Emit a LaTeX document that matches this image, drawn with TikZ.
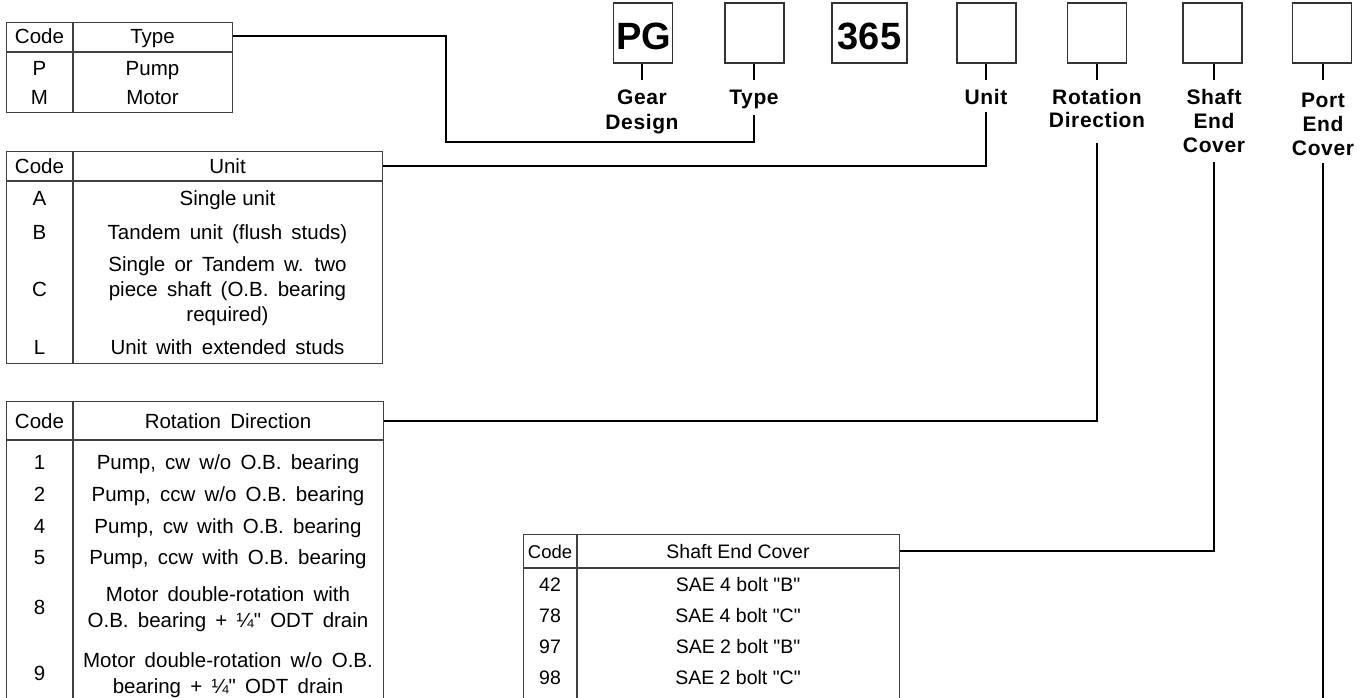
\documentclass[tikz,border=0pt]{standalone}
\usepackage{fontspec}
\setmainfont{Liberation Sans}[Ligatures=TeXOff]
\newfontfamily\lblfont{Liberation Sans}[Ligatures=TeXOff,LetterSpace=3]
\newcommand\tabfont{\fontsize{20.5}{24}\selectfont\setlength{\spaceskip}{0.45em}}
\newcommand\lblsfont{\lblfont\fontsize{21}{25}\selectfont\bfseries}
\begin{document}
\begin{tikzpicture}[x=1pt,y=-1pt,
  tx/.style={inner sep=0pt, text height=14.7pt, text depth=0pt, font=\tabfont},
  sx/.style={inner sep=0pt, text height=14pt, text depth=0pt, font=\fontsize{19.5}{23}\selectfont},
  lbl/.style={inner sep=0pt, text height=15pt, text depth=0pt, font=\lblsfont},
  big/.style={inner sep=0pt, text height=27.2pt, text depth=0pt, font=\fontsize{38}{40}\selectfont\bfseries},
  codebox/.style={draw=black!80, line width=1.3pt, minimum width=59pt, minimum height=60pt, inner sep=0pt},
  tbl/.style={draw=black!75, line width=1.4pt},
  conn/.style={draw=black, line width=1.2pt}]
\useasboundingbox (0,0) rectangle (1364,697);
\clip (0,0) rectangle (1364,697);

% ---------- top code boxes ----------
\node[codebox] (bPG) at (643,33) {};
\node[big] (tPG) at (643.5,36) {PG};
\node[codebox] (bTY) at (754.5,33) {};
\node[codebox, minimum width=75pt] (b365) at (869.5,33) {};
\node[big] (t365) at (869.5,36) {365};
\node[codebox] (bUN) at (986.5,33) {};
\node[codebox] (bRO) at (1097,33) {};
\node[codebox] (bSH) at (1212.5,33) {};
\node[codebox] (bPO) at (1322,33) {};

% ticks
\coordinate (kPG) at (642,80);
\coordinate (kTY) at (754,80);
\coordinate (kUN) at (986,80);
\coordinate (kRO) at (1097,80);
\coordinate (kSH) at (1214,80);
\coordinate (kPO) at (1323,80);
\draw[conn] (bPG.south -| kPG) -- (kPG);
\draw[conn] (bTY.south -| kTY) -- (kTY);
\draw[conn] (bUN.south -| kUN) -- (kUN);
\draw[conn] (bRO.south -| kRO) -- (kRO);
\draw[conn] (bSH.south -| kSH) -- (kSH);
\draw[conn] (bPO.south -| kPO) -- (kPO);

% labels
\node[lbl] (lGear) at (642,97) {Gear};
\node[lbl] (lDesign) at (642,122) {Design};
\node[lbl] (lType) at (754,97) {Type};
\node[lbl] (lUnit) at (986,97) {Unit};
\node[lbl] (lRot) at (1097,97) {Rotation};
\node[lbl] (lDir) at (1097,120) {Direction};
\node[lbl] (lShaft) at (1214,97) {Shaft};
\node[lbl] (lSEnd) at (1214,121) {End};
\node[lbl] (lSCover) at (1214,145) {Cover};
\node[lbl] (lPort) at (1323,100) {Port};
\node[lbl] (lPEnd) at (1323,124) {End};
\node[lbl] (lPCover) at (1323,148) {Cover};

% ---------- Type table ----------
\node[tbl, anchor=north west, minimum width=226pt, minimum height=90pt, inner sep=0pt] (ttbl) at (6,22) {};
\draw[tbl] (6,52) -- (232,52);
\draw[tbl] (73,22) -- (73,112);
\node[tx] (tH1) at (39.5,36) {Code};
\node[tx] (tH2) at (152.5,36) {Type};
\node[tx] (tP) at (39.5,68) {P};
\node[tx] (tPd) at (152.5,68) {Pump};
\node[tx] (tM) at (39.5,97) {M};
\node[tx] (tMd) at (152.5,97) {Motor};

% ---------- Unit table ----------
\node[tbl, anchor=north west, minimum width=376pt, minimum height=212pt, inner sep=0pt] (utbl) at (6,151) {};
\draw[tbl] (6,181) -- (382,181);
\draw[tbl] (73,151) -- (73,363);
\node[tx] (uH1) at (39.5,166) {Code};
\node[tx] (uH2) at (227.5,166) {Unit};
\node[tx] (uA) at (39.5,198) {A};
\node[tx] (uAd) at (227.5,198) {\setlength{\spaceskip}{0pt}Single unit};
\node[tx] (uB) at (39.5,232) {B};
\node[tx] (uBd) at (227.5,232) {Tandem unit (flush studs)};
\node[tx] (uC) at (39.5,289) {C};
\node[tx] (uCd1) at (227.5,264) {Single or Tandem w. two};
\node[tx] (uCd2) at (227.5,289) {piece shaft (O.B. bearing};
\node[tx] (uCd3) at (227.5,314) {required)};
\node[tx] (uL) at (39.5,347) {L};
\node[tx] (uLd) at (227.5,347) {Unit with extended studs};

% ---------- Rotation table ----------
\node[tbl, anchor=north west, minimum width=377pt, minimum height=310pt, inner sep=0pt] (rtbl) at (6,401) {};
\draw[tbl] (6,440) -- (383,440);
\draw[tbl] (73,401) -- (73,711);
\node[tx] (rH1) at (39.5,421) {Code};
\node[tx] (rH2) at (228,421) {Rotation Direction};
\node[tx] (r1) at (39.5,462) {1};
\node[tx] (r1d) at (228,462) {Pump, cw w/o O.B. bearing};
\node[tx] (r2) at (39.5,494) {2};
\node[tx] (r2d) at (228,494) {Pump, ccw w/o O.B. bearing};
\node[tx] (r4) at (39.5,526) {4};
\node[tx] (r4d) at (228,526) {Pump, cw with O.B. bearing};
\node[tx] (r5) at (39.5,557) {5};
\node[tx] (r5d) at (228,557) {Pump, ccw with O.B. bearing};
\node[tx] (r8) at (39.5,607) {8};
\node[tx] (r8a) at (228,594) {Motor double-rotation with};
\node[tx] (r8b) at (228,620) {O.B. bearing + ¼" ODT drain};
\node[tx] (r9) at (39.5,673) {9};
\node[tx] (r9a) at (228,660) {Motor double-rotation w/o O.B.};
\node[tx] (r9b) at (228,686) {bearing + ¼" ODT drain};

% ---------- Shaft End Cover table ----------
\node[tbl, anchor=north west, minimum width=376pt, minimum height=180pt, inner sep=0pt] (stbl) at (523,534) {};
\draw[tbl] (523,568) -- (899,568);
\draw[tbl] (577,534) -- (577,714);
\node[sx, font=\fontsize{18.5}{22}\selectfont] (sH1) at (550,551) {Code};
\node[sx] (sH2) at (738,551) {Shaft End Cover};
\node[sx] (s42) at (550,584) {42};
\node[sx] (s42d) at (738,584) {SAE 4 bolt "B"};
\node[sx] (s78) at (550,615) {78};
\node[sx] (s78d) at (738,615) {SAE 4 bolt "C"};
\node[sx] (s97) at (550,646) {97};
\node[sx] (s97d) at (738,646) {SAE 2 bolt "B"};
\node[sx] (s98) at (550,677) {98};
\node[sx] (s98d) at (738,677) {SAE 2 bolt "C"};

% ---------- connectors ----------
\coordinate (cT1) at (446,142);
\coordinate (cT2) at (754,115);
\draw[conn] (ttbl.east |- tH2) -| (cT1) -| (cT2);
\coordinate (cU) at (986,112);
\draw[conn] (utbl.east |- uH2) -| (cU);
\coordinate (cR) at (1097,143);
\draw[conn] (rtbl.east |- rH2) -| (cR);
\coordinate (cS) at (1214,162);
\draw[conn] (stbl.east |- sH2) -| (cS);
\coordinate (cP1) at (1323,163);
\coordinate (cP2) at (1323,700);
\draw[conn] (cP1) -- (cP2);
\end{tikzpicture}
\end{document}
